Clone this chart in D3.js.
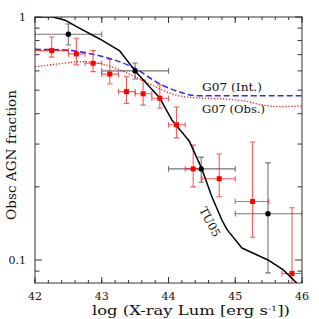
<!DOCTYPE html>
<html><head><meta charset="utf-8">
<script src="https://cdn.jsdelivr.net/npm/d3@7"></script>
<style>body{margin:0;background:#fff}svg{display:block}text{font-family:"DejaVu Serif",serif;fill:#111}</style>
</head><body><svg id="c" width="319" height="319"></svg>
<script>
// TU05 model curve
const tuX = [42.0, 42.27, 42.45, 42.63, 42.97, 43.27, 43.5, 43.87, 44.05, 44.31, 44.5, 44.65, 44.8, 44.88, 45.1, 45.49, 45.72, 45.93];
const tuY = [1.0, 1.0, 0.97, 0.91, 0.812, 0.725, 0.60, 0.464, 0.377, 0.309, 0.237, 0.182, 0.146, 0.133, 0.112, 0.100, 0.091, 0.080];
// G07 intrinsic (blue dashed)
const intX = [42.0, 42.47, 42.77, 43.12, 43.5, 43.87, 44.17, 44.42, 46.0];
const intY = [0.736, 0.731, 0.711, 0.675, 0.614, 0.53, 0.491, 0.474, 0.474];
// G07 observed (red dotted)
const obsX = [42.0, 42.22, 42.47, 42.67, 42.97, 43.27, 43.57, 43.87, 44.17, 44.47, 44.82, 45.15, 45.45, 45.67, 46.0];
const obsY = [0.624, 0.635, 0.647, 0.655, 0.644, 0.605, 0.556, 0.506, 0.473, 0.464, 0.46, 0.451, 0.432, 0.428, 0.431];
// black data points
const bX = [42.5, 43.5, 44.49, 45.49];
const bY = [0.849, 0.60, 0.237, 0.155];
const bXLo = [42, 43, 44, 45];
const bXHi = [43, 44, 45, 46];
const bYLo = [0.767, 0.556, 0.209, 0.0885];
const bYHi = [0.936, 0.647, 0.265, 0.251];
// red data points
const rX = [42.25, 42.62, 42.87, 43.12, 43.37, 43.62, 43.87, 44.12, 44.37, 44.76, 45.26, 45.85];
const rY = [0.727, 0.705, 0.645, 0.582, 0.493, 0.483, 0.463, 0.36, 0.237, 0.216, 0.174, 0.088];
const rXLo = [42.0, 42.5, 42.75, 43.0, 43.25, 43.5, 43.75, 44.0, 44.25, 44.5, 45.0, 45.7];
const rXHi = [42.5, 42.75, 43.0, 43.25, 43.5, 43.75, 44.0, 44.25, 44.5, 45.0, 45.5, 46.0];
const rYLo = [0.684, 0.635, 0.596, 0.53, 0.441, 0.434, 0.422, 0.318, 0.2, 0.182, 0.124, 0.07];
const rYHi = [0.827, 0.818, 0.727, 0.67, 0.568, 0.55, 0.525, 0.426, 0.297, 0.273, 0.306, 0.164];
// ticks
const xTickVals = [42, 43, 44, 45, 46];
const xMinor = d3.range(42, 46.001, 0.2);
const yTickVals = [0.1, 1];
const yMinor = [0.09, 0.2, 0.3, 0.4, 0.5, 0.6, 0.7, 0.8, 0.9];

const L = 35, R = 302, T = 17, B = 283;
const x = d3.scaleLinear().domain([42, 46]).range([L, R]);
const y = d3.scaleLog().domain([0.0804, 1]).range([B, T]);
const svg = d3.select("#c");
svg.append("defs").append("clipPath").attr("id", "clip").append("rect")
  .attr("x", L).attr("y", T).attr("width", R - L).attr("height", B - T);
const g = svg.append("g").attr("clip-path", "url(#clip)");

const line = d3.line().x(d => x(d[0])).y(d => y(d[1])).curve(d3.curveMonotoneX);
const lineLin = d3.line().x(d => x(d[0])).y(d => y(d[1]));
g.append("path").datum(obsX.map((v, i) => [v, obsY[i]])).attr("d", line)
  .attr("fill", "none").attr("stroke", "#ff2020").attr("stroke-width", 1.3).attr("stroke-dasharray", "1.3,1.7");
g.append("path").datum(intX.map((v, i) => [v, intY[i]])).attr("d", line)
  .attr("fill", "none").attr("stroke", "#2a2aff").attr("stroke-width", 1.5).attr("stroke-dasharray", "6,3");

// error bars
function errs(X, Y, XL, XH, YL, YH, col, op) {
  const eg = g.append("g").attr("stroke", col).attr("stroke-opacity", op).attr("stroke-width", 1.1).attr("fill", "none");
  const c = 2.8;
  X.forEach((v, i) => {
    const px = x(v), py = y(Y[i]);
    const x0 = x(XL[i]), x1 = x(XH[i]), y0 = y(YL[i]), y1 = y(YH[i]);
    eg.append("path").attr("d",
      `M${x0},${py}H${x1}M${x0},${py - c}V${py + c}M${x1},${py - c}V${py + c}` +
      `M${px},${y0}V${y1}M${px - c},${y0}H${px + c}M${px - c},${y1}H${px + c}`);
  });
}
errs(bX, bY, bXLo, bXHi, bYLo, bYHi, "#000", 0.55);
errs(rX, rY, rXLo, rXHi, rYLo, rYHi, "#ff0000", 0.65);

g.append("path").datum(tuX.map((v, i) => [v, tuY[i]])).attr("d", lineLin)
  .attr("fill", "none").attr("stroke", "#000").attr("stroke-width", 1.5).attr("stroke-linejoin", "round");

g.selectAll("rect.rp").data(rX).enter().append("rect")
  .attr("x", (d) => x(d) - 2.5).attr("y", (d, i) => y(rY[i]) - 2.5)
  .attr("width", 5).attr("height", 5).attr("fill", "#ff0000");
g.selectAll("circle.bp").data(bX).enter().append("circle")
  .attr("cx", d => x(d)).attr("cy", (d, i) => y(bY[i])).attr("r", 2.7).attr("fill", "#000");

// axes
const ax = svg.append("g").attr("stroke", "#333").attr("stroke-width", 1);
ax.append("rect").attr("x", L).attr("y", T).attr("width", R - L).attr("height", B - T).attr("fill", "none");
function tk(v, len, horiz) {
  if (horiz) {
    ax.append("line").attr("x1", x(v)).attr("x2", x(v)).attr("y1", B).attr("y2", B - len);
    ax.append("line").attr("x1", x(v)).attr("x2", x(v)).attr("y1", T).attr("y2", T + len);
  } else {
    ax.append("line").attr("y1", y(v)).attr("y2", y(v)).attr("x1", L).attr("x2", L + len);
    ax.append("line").attr("y1", y(v)).attr("y2", y(v)).attr("x1", R).attr("x2", R - len);
  }
}
xMinor.forEach(v => tk(v, 3, true));
xTickVals.forEach(v => tk(v, 6, true));
yMinor.forEach(v => tk(v, 4.5, false));
yTickVals.forEach(v => tk(v, 7, false));

svg.selectAll("text.xt").data(xTickVals).enter().append("text")
  .attr("x", d => x(d)).attr("y", 300).attr("text-anchor", "middle").attr("font-size", 11).text(d => d);
svg.selectAll("text.yt").data(yTickVals).enter().append("text")
  .attr("x", 26).attr("y", d => y(d) + 4).attr("text-anchor", "end").attr("font-size", 11).text(d => d);

const xl = svg.append("text").attr("x", 92).attr("y", 315).attr("font-size", 12)
  .attr("textLength", 198).attr("lengthAdjust", "spacingAndGlyphs");
xl.append("tspan").text("log (X-ray Lum [erg s");
xl.append("tspan").attr("font-size", 7).attr("dy", -4).text("-1");
xl.append("tspan").attr("dy", 4).text("])");
svg.append("text").attr("transform", "translate(16,155) rotate(-90)").attr("text-anchor", "middle")
  .attr("font-size", 12).attr("textLength", 130).attr("lengthAdjust", "spacingAndGlyphs").text("Obsc AGN fraction");

svg.append("text").attr("x", 202).attr("y", 91).attr("font-size", 11.5)
  .attr("textLength", 60).attr("lengthAdjust", "spacingAndGlyphs").text("G07 (Int.)");
svg.append("text").attr("x", 202).attr("y", 113).attr("font-size", 11.5)
  .attr("textLength", 63).attr("lengthAdjust", "spacingAndGlyphs").text("G07 (Obs.)");
svg.append("text").attr("transform", "translate(210,222) rotate(62)").attr("text-anchor", "middle")
  .attr("dy", 4).attr("font-size", 11.5).text("TU05");
</script></body></html>
